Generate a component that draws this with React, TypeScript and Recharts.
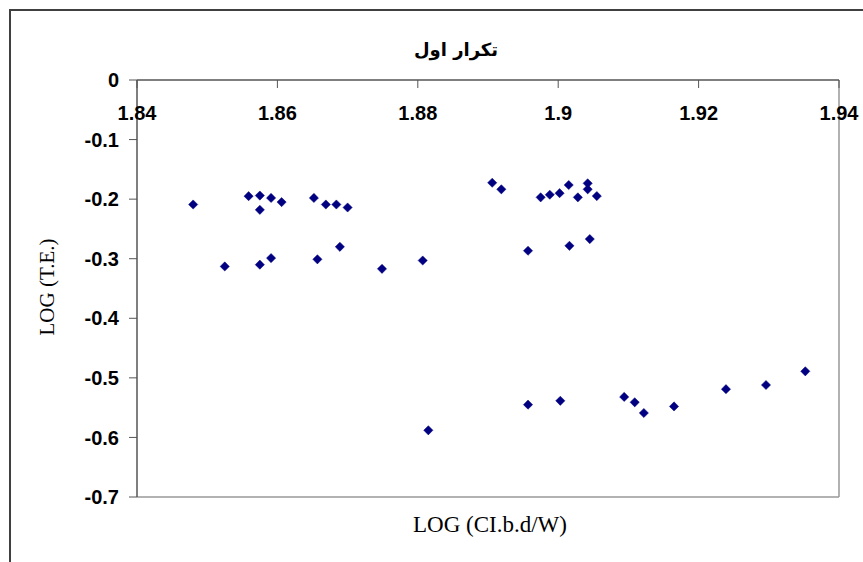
import React from 'react';
import { ScatterChart, Scatter, XAxis, YAxis, ReferenceLine } from 'recharts';

const chartTitle = 'تكرار اول';
const xAxisTitle = 'LOG (CI.b.d/W)';
const yAxisTitle = 'LOG (T.E.)';

const xTicks = [1.84, 1.86, 1.88, 1.9, 1.92, 1.94];
const yTicks = [0, -0.1, -0.2, -0.3, -0.4, -0.5, -0.6, -0.7];

const xValues = [
  1.848, 1.8525, 1.8559, 1.8575, 1.8591, 1.8606, 1.8575, 1.8652, 1.8669, 1.8684,
  1.87, 1.8575, 1.8591, 1.8657, 1.8689, 1.8749, 1.8807, 1.8815, 1.8906, 1.8919,
  1.8975, 1.8988, 1.9002, 1.9015, 1.9042, 1.9042, 1.9028, 1.9055, 1.8957, 1.9016,
  1.9045, 1.8957, 1.9003, 1.9094, 1.9109, 1.9122, 1.9165, 1.9239, 1.9296, 1.9352,
];
const yValues = [
  -0.209, -0.313, -0.195, -0.194, -0.198, -0.205, -0.218, -0.198, -0.209, -0.209,
  -0.214, -0.31, -0.299, -0.301, -0.28, -0.317, -0.303, -0.588, -0.1725, -0.1835,
  -0.197, -0.1926, -0.19, -0.1763, -0.1735, -0.1835, -0.197, -0.1948, -0.2866, -0.2783,
  -0.267, -0.545, -0.5385, -0.532, -0.541, -0.559, -0.548, -0.519, -0.512, -0.489,
];

const data = xValues.map((x, i) => ({ x, y: yValues[i] }));

const FONT = '"Liberation Sans", Arial, sans-serif';
const SERIF = '"Liberation Serif", "Times New Roman", serif';

const XTick = (props: any) => {
  const { x, y, payload } = props;
  return (
    <g>
      <line x1={x} y1={y} x2={x} y2={y + 8} stroke="#555" strokeWidth={1} />
      <text x={x} y={y + 40} textAnchor="middle" fontFamily={FONT} fontWeight="bold" fontSize={20} fill="#000">
        {String(payload.value)}
      </text>
    </g>
  );
};

const Diamond = (props: any) => {
  const { cx, cy } = props;
  const r = 4.6;
  return (
    <polygon
      points={`${cx},${cy - r} ${cx + r},${cy} ${cx},${cy + r} ${cx - r},${cy}`}
      fill="#000080"
      stroke="#000080"
      strokeWidth={0.5}
    />
  );
};

const YLabel = () => (
  <text
    x={54}
    y={287}
    transform="rotate(-90 54 287)"
    textAnchor="middle"
    fontFamily={SERIF}
    fontSize={21}
    fill="#000"
  >
    {yAxisTitle}
  </text>
);

export default function App() {
  return (
    <div style={{ position: 'absolute', left: 0, top: 0, width: 863, height: 562, overflow: 'hidden', background: '#fff' }}>
      <div
        style={{
          position: 'absolute',
          left: 9,
          top: 9,
          width: 900,
          height: 600,
          border: '2px solid #404040',
          boxSizing: 'border-box',
        }}
      />
      <div
        style={{
          position: 'absolute',
          left: 356,
          top: 38,
          width: 200,
          textAlign: 'center',
          fontFamily: '"DejaVu Sans", sans-serif',
          fontWeight: 'bold',
          fontSize: 18,
          lineHeight: '24px',
          direction: 'rtl',
          color: '#000',
        }}
      >
        {chartTitle}
      </div>
      <div
        style={{
          position: 'absolute',
          left: 340,
          top: 511,
          width: 300,
          textAlign: 'center',
          fontFamily: SERIF,
          fontSize: 23,
          lineHeight: '28px',
          color: '#000',
        }}
      >
        {xAxisTitle}
      </div>
      <div style={{ position: 'absolute', left: 0, top: 0 }}>
        <ScatterChart width={863} height={562} margin={{ top: 50, right: 24, bottom: 65, left: 0 }}>
          <XAxis
            type="number"
            dataKey="x"
            orientation="top"
            height={30}
            domain={[1.84, 1.94]}
            ticks={xTicks}
            interval={0}
            allowDataOverflow
            tickSize={0}
            tickMargin={0}
            tickLine={false}
            axisLine={{ stroke: '#555', strokeWidth: 1.5 }}
            tick={<XTick />}
          />
          <YAxis
            type="number"
            dataKey="y"
            width={137}
            domain={[-0.7, 0]}
            ticks={yTicks}
            interval={0}
            allowDataOverflow
            tickSize={8}
            tickMargin={10}
            tickLine={{ stroke: '#555' }}
            axisLine={{ stroke: '#555', strokeWidth: 1.5 }}
            tick={{ fill: '#000', fontSize: 20, fontWeight: 'bold', fontFamily: FONT }}
            tickFormatter={(v: number) => String(v)}
            label={{ content: () => <YLabel /> }}
          />
          <ReferenceLine y={-0.7} stroke="#999" strokeWidth={1.5} />
          <ReferenceLine x={1.94} stroke="#999" strokeWidth={1.5} />
          <Scatter data={data} shape={<Diamond />} isAnimationActive={false} />
        </ScatterChart>
      </div>
    </div>
  );
}
